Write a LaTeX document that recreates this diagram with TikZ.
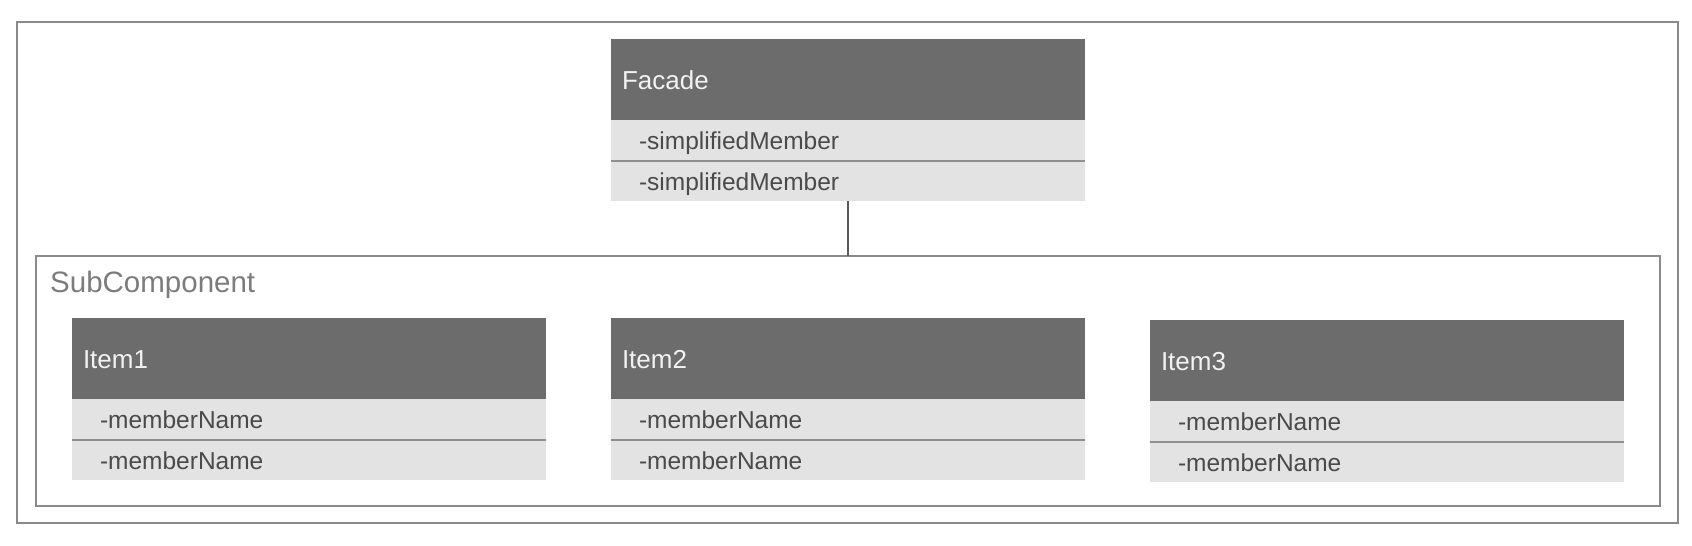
\documentclass[tikz,border=0pt]{standalone}
\usepackage{fontspec}
\setmainfont{Liberation Sans}
\definecolor{framegray}{HTML}{8A8A8A}
\definecolor{hdrgray}{HTML}{6C6C6C}
\definecolor{hdrtext}{HTML}{F2F2F2}
\definecolor{memfill}{HTML}{E3E3E3}
\definecolor{memtext}{HTML}{4A4A4A}
\definecolor{divgray}{HTML}{8E8E8E}
\definecolor{subtext}{HTML}{7C7C7C}
\definecolor{conngray}{HTML}{5A5A5A}
\begin{document}
\begin{tikzpicture}[x=1pt,y=-1pt,
  frame/.style={draw=framegray, line width=1.4pt, inner sep=0pt, outer sep=0pt, anchor=north west},
  hdr/.style={fill=hdrgray, text=hdrtext, inner xsep=11pt, inner ysep=0pt, outer sep=0pt,
    minimum width=474pt, minimum height=81pt, text width=452pt, align=left,
    text height=19pt, text depth=0pt, anchor=north west, font=\fontsize{26}{30}\selectfont},
  mem/.style={fill=memfill, text=memtext, inner xsep=28pt, inner ysep=0pt, outer sep=0pt,
    minimum width=474pt, text width=418pt, align=left,
    text height=18pt, text depth=0pt, anchor=north west, font=\fontsize{24.5}{29}\selectfont},
  memA/.style={mem, minimum height=41pt},
  memB/.style={mem, minimum height=40pt},
  divider/.style={draw=divgray, line width=1.2pt},
  conn/.style={draw=conngray, line width=1.2pt},
  sublabel/.style={text=subtext, inner sep=0pt, anchor=base west, font=\fontsize{29.5}{34}\selectfont}
]
\useasboundingbox (0,0) rectangle (1692,546);

% outer frame
\node[frame, minimum width=1661pt, minimum height=501pt] (outer) at (17,22) {};

% SubComponent frame
\node[frame, minimum width=1624pt, minimum height=250pt] (sub) at (36,256) {};
\node[sublabel] (sublbl) at (50,292) {SubComponent};

% Facade
\node[hdr] (fh) at (611,39) {Facade};
\node[memA] (fm1) at (fh.south west) {-simplifiedMember};
\node[memB] (fm2) at (fm1.south west) {-simplifiedMember};
\draw[divider] (fm1.south west) -- (fm1.south east);

% Item1
\node[hdr] (i1h) at (72,318) {Item1};
\node[memA] (i1m1) at (i1h.south west) {-memberName};
\node[memB] (i1m2) at (i1m1.south west) {-memberName};
\draw[divider] (i1m1.south west) -- (i1m1.south east);

% Item2
\node[hdr] (i2h) at (611,318) {Item2};
\node[memA] (i2m1) at (i2h.south west) {-memberName};
\node[memB] (i2m2) at (i2m1.south west) {-memberName};
\draw[divider] (i2m1.south west) -- (i2m1.south east);

% Item3
\node[hdr] (i3h) at (1150,320) {Item3};
\node[memA] (i3m1) at (i3h.south west) {-memberName};
\node[memB] (i3m2) at (i3m1.south west) {-memberName};
\draw[divider] (i3m1.south west) -- (i3m1.south east);

% connector
\draw[conn] (fm2.south) -- (sub.north);
\end{tikzpicture}
\end{document}
